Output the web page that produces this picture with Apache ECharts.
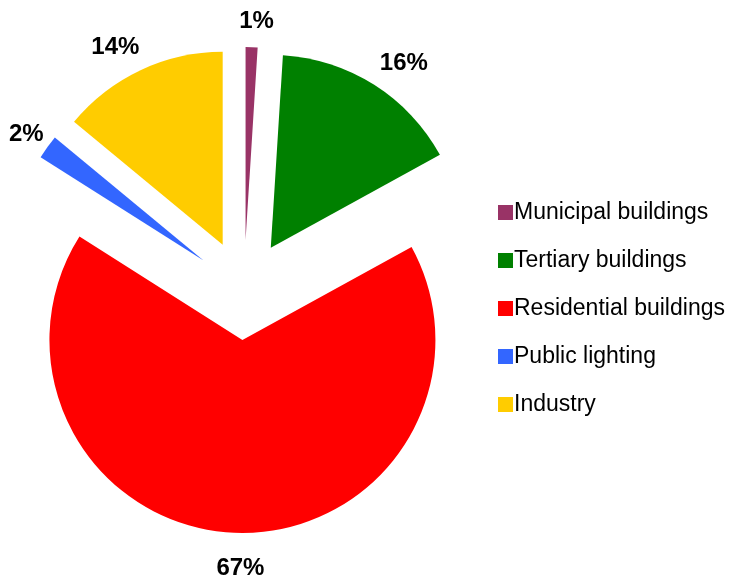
<!DOCTYPE html>
<html><head><meta charset="utf-8">
<script src="https://cdn.jsdelivr.net/npm/echarts@6/dist/echarts.min.js"></script>
<style>html,body{margin:0;padding:0;background:#fff}#c{width:731px;height:583px}</style>
</head><body><div id="c"></div>
<script>
const categories = ['Municipal buildings','Tertiary buildings','Residential buildings','Public lighting','Industry'];
const values = [1, 16, 67, 2, 14];
const colors = ['#993366','#008000','#FF0000','#3366FF','#FFCC00'];

// small label nudges (style only)
const labelNudgeX = [-1, 8, 10, 9, -7];

const chart = echarts.init(document.getElementById('c'), null, {renderer:'canvas'});
chart.setOption({
  animation:false,
  backgroundColor:'#fff',
  legend:{
    orient:'vertical', left:493, top:196,
    itemWidth:15, itemHeight:15, itemGap:25,
    icon:'rect',
    textStyle:{fontFamily:'Liberation Sans, Arial', fontSize:23, lineHeight:23, color:'#000', padding:[0,0,0,-4]},
    data:categories,
    selectedMode:false
  },
  series:[{
    type:'pie',
    center:[244,290],
    radius:[0,193],
    startAngle:90,
    clockwise:true,
    selectedMode:'multiple',
    selectedOffset:50,
    avoidLabelOverlap:false,
    label:{show:true, position:'outside', formatter:'{d}%', fontFamily:'Liberation Sans, Arial', fontSize:24, fontWeight:'bold', color:'#000'},
    labelLine:{show:false, length:31, length2:0},
    labelLayout:function(p){ return {align:'center', verticalAlign:'middle', dx:labelNudgeX[p.dataIndex], dy:5}; },
    emphasis:{disabled:true},
    select:{label:{show:true}},
    data:categories.map((n,i)=>({name:n, value:values[i], selected:true, itemStyle:{color:colors[i]}, select:{itemStyle:{color:colors[i]}}}))
  }]
});
</script></body></html>
